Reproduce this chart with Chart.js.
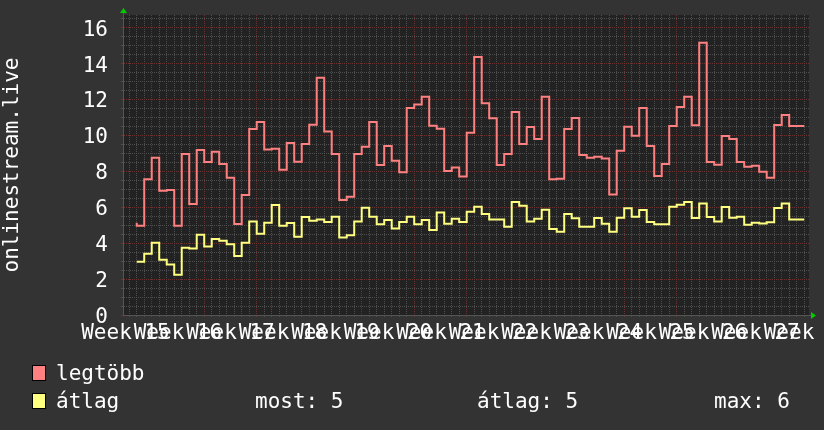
<!DOCTYPE html>
<html>
<head>
<meta charset="utf-8">
<script src="https://cdn.jsdelivr.net/npm/chart.js@4.4.1/dist/chart.umd.min.js"></script>
<style>
  html, body { margin: 0; padding: 0; background: #333333; }
  #wrap { position: relative; width: 824px; height: 430px; overflow: hidden; background: #333333; }
  #c { position: absolute; left: 0; top: 0; }
  .lg { position: absolute; font-family: "DejaVu Sans Mono", monospace; font-size: 21px; line-height: 21px; color: #ffffff; white-space: pre; }
  .box { position: absolute; width: 12px; height: 14px; border: 1px solid #000000; }
</style>
</head>
<body>
<div id="wrap">
  <canvas id="c" width="824" height="430"></canvas>
  <div id="legend"></div>
</div>
<script>
// ---------------- data ----------------
// one value per day; day 0 = first day of Week 16
const firstDay = -2;

const seriesNames = ['legtöbb', 'átlag'];

const maxValues = [
  5.13, 4.96,
  7.54, 8.74, 6.91, 6.94, 4.96, 8.94, 6.17,
  9.17, 8.50, 9.07, 8.39, 7.63, 5.06, 6.67,
  10.33, 10.72, 9.19, 9.24, 8.07, 9.56, 8.52,
  9.50, 10.57, 13.19, 10.19, 8.94, 6.39, 6.57,
  8.94, 9.35, 10.72, 8.33, 9.39, 8.57, 7.93,
  11.50, 11.69, 12.13, 10.52, 10.35, 8.00, 8.19,
  7.69, 10.13, 14.33, 11.76, 10.93, 8.33, 8.94,
  11.28, 9.50, 10.44, 9.78, 12.13, 7.54, 7.57,
  10.33, 10.94, 8.89, 8.74, 8.80, 8.69, 6.69,
  9.13, 10.46, 9.96, 11.50, 9.39, 7.72, 8.39,
  10.50, 11.56, 12.13, 10.54, 15.13, 8.50, 8.35,
  9.94, 9.78, 8.50, 8.24, 8.30, 7.96, 7.63,
  10.56, 11.11, 10.50
];

const avgValues = [
  2.96, 2.96,
  3.41, 4.02, 3.07, 2.80, 2.24, 3.74, 3.69,
  4.46, 3.80, 4.22, 4.13, 3.93, 3.28, 4.02,
  5.19, 4.52, 5.13, 6.11, 4.96, 5.11, 4.35,
  5.44, 5.24, 5.31, 5.17, 5.46, 4.30, 4.43,
  5.19, 5.96, 5.46, 5.04, 5.28, 4.81, 5.17,
  5.46, 5.04, 5.28, 4.72, 5.69, 5.07, 5.35,
  5.17, 5.74, 6.02, 5.61, 5.30, 5.31, 4.91,
  6.28, 6.07, 5.19, 5.35, 5.85, 4.78, 4.63,
  5.61, 5.37, 4.91, 4.91, 5.39, 5.07, 4.63,
  5.41, 5.93, 5.46, 5.83, 5.17, 5.04, 5.04,
  6.02, 6.13, 6.28, 5.39, 6.19, 5.44, 5.19,
  6.00, 5.41, 5.46, 5.02, 5.13, 5.09, 5.15,
  5.94, 6.19, 5.30
];

const weekLabels = ['Week 15', 'Week 16', 'Week 17', 'Week 18', 'Week 19', 'Week 20', 'Week 21',
                    'Week 22', 'Week 23', 'Week 24', 'Week 25', 'Week 26', 'Week 27', 'Week 28'];
const yTickLabels = [0, 2, 4, 6, 8, 10, 12, 14, 16];

const statLabels = ['most', 'átlag', 'max'];
const statValues = [5, 5, 6];

// ---------------- style ----------------
const RED = '#ff8080';
const YELLOW = '#ffff80';
const MINOR = 'rgb(78,78,78)';
const MAJOR = 'rgb(108,50,50)';
const FONT = "'DejaVu Sans Mono', monospace";

// step points: each value spans [day, day+1]
function stepPoints(values) {
  const pts = values.map((v, i) => ({ x: firstDay + i, y: v }));
  pts.push({ x: firstDay + values.length, y: values[values.length - 1] });
  return pts;
}

const bgPlugin = {
  id: 'bg',
  beforeDraw(chart) {
    const { ctx, chartArea: a } = chart;
    ctx.save();
    ctx.fillStyle = '#222222';
    ctx.fillRect(a.left, a.top, a.right - a.left, a.bottom - a.top);
    ctx.restore();
  },
  afterDraw(chart) {
    const { ctx, chartArea: a } = chart;
    ctx.save();
    ctx.strokeStyle = '#555555';
    ctx.lineWidth = 1;
    ctx.beginPath();
    ctx.moveTo(a.left + 0.5, a.bottom);
    ctx.lineTo(a.left + 0.5, a.top - 3);
    ctx.moveTo(a.left, a.bottom + 0.5);
    ctx.lineTo(a.right + 3, a.bottom + 0.5);
    ctx.stroke();
    ctx.fillStyle = '#00cc00';
    ctx.beginPath();
    ctx.moveTo(a.left + 0.5, a.top - 7);
    ctx.lineTo(a.left - 3, a.top - 2);
    ctx.lineTo(a.left + 4, a.top - 2);
    ctx.closePath();
    ctx.fill();
    ctx.beginPath();
    ctx.moveTo(a.right + 7, a.bottom + 0.5);
    ctx.lineTo(a.right + 2, a.bottom - 3);
    ctx.lineTo(a.right + 2, a.bottom + 4);
    ctx.closePath();
    ctx.fill();
    ctx.restore();
  }
};

Chart.defaults.font.family = FONT;
Chart.defaults.font.size = 21;
Chart.defaults.color = '#ffffff';

new Chart(document.getElementById('c'), {
  type: 'line',
  data: {
    datasets: [
      { label: seriesNames[0], data: stepPoints(maxValues), borderColor: RED, borderWidth: 2,
        stepped: 'after', pointRadius: 0, fill: false },
      { label: seriesNames[1], data: stepPoints(avgValues), borderColor: YELLOW, borderWidth: 2,
        stepped: 'after', pointRadius: 0, fill: false }
    ]
  },
  options: {
    responsive: false,
    animation: false,
    events: [],
    layout: { padding: { top: 15, right: 15, left: 0, bottom: 0 } },
    plugins: { legend: { display: false }, tooltip: { enabled: false } },
    scales: {
      x: {
        type: 'linear',
        min: -3.83,
        max: 87.64,
        afterBuildTicks(s) {
          const t = [];
          for (let v = -3.5; v <= 87.5; v += 0.5) t.push({ value: v });
          s.ticks = t;
        },
        afterFit(s) { s.height = 115; s.paddingLeft = 0; s.paddingRight = 0; },
        ticks: {
          autoSkip: false, maxRotation: 0, minRotation: 0, padding: 4,
          color: '#ffffff', font: { family: FONT, size: 21 },
          callback(v) {
            const k = (v + 3.5) / 7;
            return Number.isInteger(k) && weekLabels[k] ? weekLabels[k] : '';
          }
        },
        grid: {
          drawTicks: true, tickLength: 2,
          color(c) {
            const v = c.tick ? c.tick.value : 0.5;
            if (!Number.isInteger(v)) return 'rgba(0,0,0,0)';
            return v % 7 === 0 ? MAJOR : MINOR;
          }
        },
        border: { display: true, color: '#555555', dash: [1, 1] }
      },
      y: {
        type: 'linear',
        min: 0,
        max: 16.67,
        afterBuildTicks(s) {
          const t = [];
          for (let v = 0; v <= 16.5; v += 0.5) t.push({ value: v });
          s.ticks = t;
        },
        afterFit(s) { s.width = 123; s.paddingTop = 0; s.paddingBottom = 0; },
        ticks: {
          autoSkip: false, padding: 13, labelOffset: 3, color: '#ffffff', font: { family: FONT, size: 21 },
          callback(v) { return yTickLabels.includes(v) ? String(v) : ''; }
        },
        grid: {
          drawTicks: true, tickLength: 2,
          color(c) {
            const v = c.tick ? c.tick.value : 0.5;
            return v % 2 === 0 ? MAJOR : MINOR;
          }
        },
        border: { display: true, color: '#555555', dash: [1, 1] },
        title: { display: true, text: 'onlinestream.live', color: '#ffffff',
                 font: { family: FONT, size: 21 }, padding: 0 }
      }
    }
  },
  plugins: [bgPlugin]
});

// ---------------- legend (HTML text) ----------------
(function buildLegend() {
  const lg = document.getElementById('legend');
  const colors = [RED, YELLOW];
  const rowTop = [363, 391];
  const boxTop = [365, 393];
  seriesNames.forEach((name, i) => {
    const b = document.createElement('div');
    b.className = 'box';
    b.style.left = '32px';
    b.style.top = boxTop[i] + 'px';
    b.style.background = colors[i];
    lg.appendChild(b);
    const t = document.createElement('div');
    t.className = 'lg';
    t.style.left = '56px';
    t.style.top = rowTop[i] + 'px';
    t.textContent = name;
    lg.appendChild(t);
  });
  const statLeft = [255, 477, 714];
  statLabels.forEach((s, i) => {
    const t = document.createElement('div');
    t.className = 'lg';
    t.style.left = statLeft[i] + 'px';
    t.style.top = rowTop[1] + 'px';
    t.textContent = s + ': ' + statValues[i];
    lg.appendChild(t);
  });
})();
</script>
</body>
</html>
